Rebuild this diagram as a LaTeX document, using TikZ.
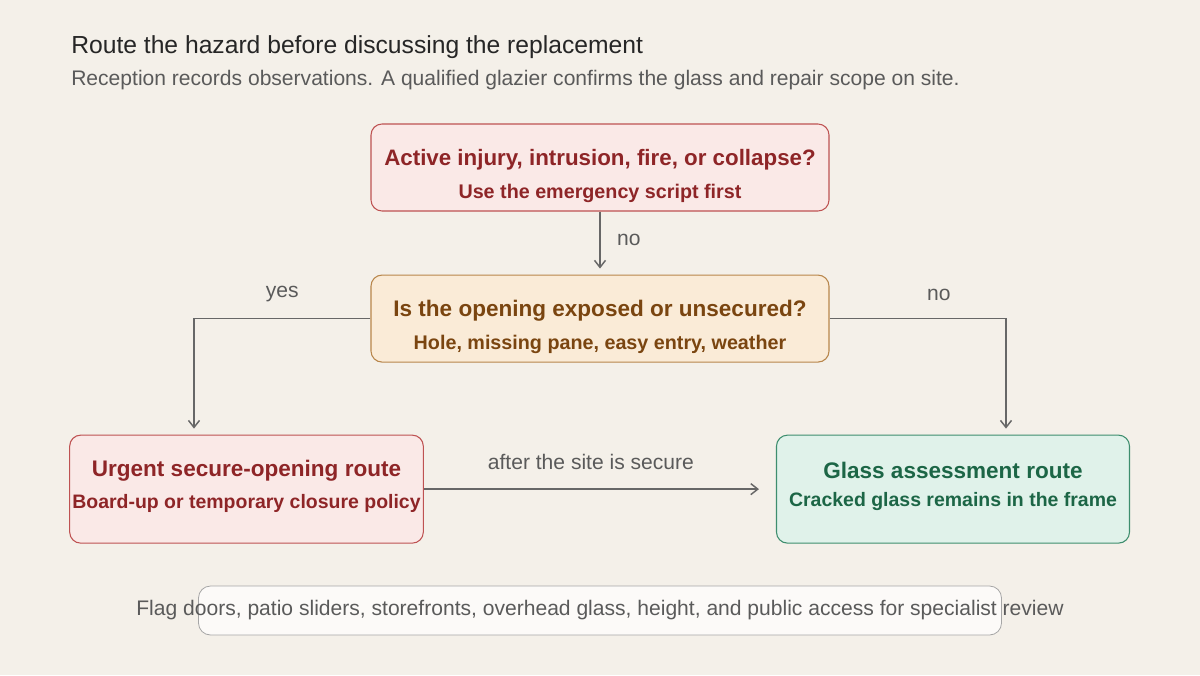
\documentclass[tikz,border=0pt]{standalone}
\usepackage{fontspec}
\setsansfont{Liberation Sans}
\usetikzlibrary{positioning, arrows.meta}

\newdimen\px \px=0.75pt

\definecolor{paper}{HTML}{F4F0E9}
\definecolor{redline}{HTML}{BE5252}
\definecolor{redfill}{HTML}{FAE9E7}
\definecolor{redtext}{HTML}{8E2527}
\definecolor{tanline}{HTML}{B8864B}
\definecolor{tanfill}{HTML}{FAEBD7}
\definecolor{tantext}{HTML}{7A4510}
\definecolor{greenline}{HTML}{3E8E6E}
\definecolor{greenfill}{HTML}{E0F2EA}
\definecolor{greentext}{HTML}{1C6646}
\definecolor{wire}{HTML}{676767}
\definecolor{note}{HTML}{5A5A5A}

\begin{document}
\begin{tikzpicture}[
    x=0.75pt, y=-0.75pt,
    font=\sffamily,
    >={Straight Barb[length=5.25pt, width=8.25pt]},
    hazard/.style={rectangle, draw=redline, fill=redfill, text=redtext, line width=0.8pt, rounded corners=11\px, minimum width=458\px, minimum height=87\px, inner xsep=2pt, align=center, font=\sffamily\bfseries},
    check/.style={hazard, draw=tanline, fill=tanfill, text=tantext},
    urgent/.style={hazard, minimum width=353\px, minimum height=108\px, execute at end node={\rule[-7.5pt]{0pt}{0pt}}},
    assess/.style={urgent, draw=greenline, fill=greenfill, text=greentext},
    remark/.style={rectangle, draw=black!35, fill=white!70!paper, line width=0.6pt, rounded corners=12\px, minimum width=803\px, minimum height=49\px, text=note, inner sep=0pt},
    arrow/.style={->, draw=wire, line width=1.1pt},
    tag/.style={text=note, font=\sffamily\fontsize{15.8}{19}\selectfont}
]
\fill[paper] (0,0) rectangle (1200,675);
\useasboundingbox (0,0) rectangle (1200,675);

\node[anchor=base west, text=black!85, inner sep=0pt, font=\sffamily\fontsize{18.5}{22}\selectfont] (heading) at (71,53) {Route the hazard before discussing the replacement};
\node[anchor=base west, text=note, inner sep=0pt, font=\sffamily\fontsize{15.8}{19}\selectfont] (lede) at (71,85) {Reception records observations. A qualified glazier confirms the glass and repair scope on site.};

\node[hazard] (emergency) at (600,167.5) {\rule{0pt}{25pt}\fontsize{16.75}{20}\selectfont Active injury, intrusion, fire, or collapse?\\[9pt] \fontsize{14.8}{20}\selectfont Use the emergency script first};
\node[check, below=63\px of emergency] (opening) {\rule{0pt}{25pt}\fontsize{16.9}{20}\selectfont Is the opening exposed or unsecured?\\[9pt] \fontsize{14.8}{20}\selectfont Hole, missing pane, easy entry, weather};
\node[urgent, below=72\px of opening, xshift=-353.5\px] (secure) {\fontsize{16.9}{20}\selectfont Urgent secure-opening route\\[9pt] \fontsize{14.6}{20}\selectfont Board-up or temporary closure policy};
\node[assess, below=72\px of opening, xshift=353\px] (glass) {\fontsize{16.9}{20}\selectfont Glass assessment route\\[9pt] \fontsize{14.6}{20}\selectfont Cracked glass remains in the frame};

\draw[arrow, shorten >=6\px] (emergency) -- node[tag, right=12\px, yshift=3\px] {no} (opening);
\draw[arrow] (opening.west) -| node[tag, pos=0.25, above=12\px] {yes} ([xshift=-52.5\px, yshift=6\px]secure.north);
\draw[arrow] (opening.east) -| node[tag, pos=0.31, above=13\px] {no} ([xshift=53\px, yshift=6\px]glass.north);
\draw[arrow, shorten >=17\px] (secure.east) -- node[tag, above=14\px, xshift=-9\px] {after the site is secure} (glass.west);

\node[remark, font=\sffamily\fontsize{15.8}{19}\selectfont] (specialist) at (600,610.5) {\makebox[0pt]{Flag doors, patio sliders, storefronts, overhead glass, height, and public access for specialist review}};
\end{tikzpicture}
\end{document}
